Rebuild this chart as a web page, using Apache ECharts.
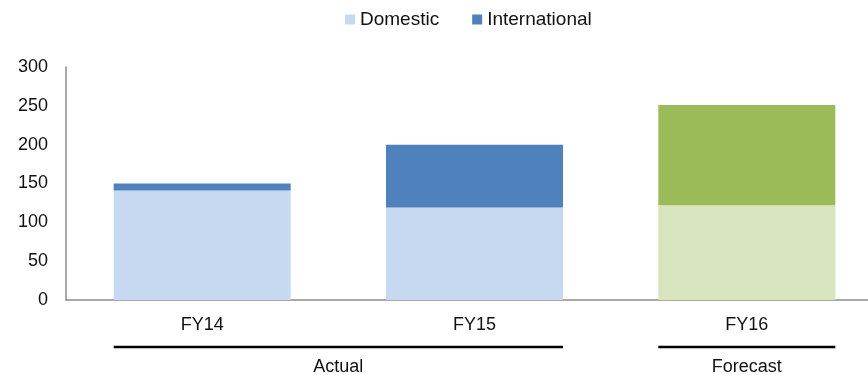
<!DOCTYPE html>
<html>
<head>
<meta charset="utf-8">
<script src="https://cdn.jsdelivr.net/npm/echarts@6/dist/echarts.min.js"></script>
<style>
  html, body { margin: 0; padding: 0; background: #fff; overflow: hidden; }
  #chart { width: 884px; height: 375px; }
</style>
</head>
<body>
<div id="chart"></div>
<script>
// Fiscal years and their stacked values
const categories = ['FY14', 'FY15', 'FY16'];
const domestic = [141, 119, 122];
const international = [9, 81, 129];
// Period groups shown beneath the category axis
const groupNames = ['Actual', 'Forecast'];
const groupSpans = [[0, 1], [2, 2]];
const forecastFrom = 2;

const FONT = '"Liberation Sans", Arial, Helvetica, sans-serif';
const blueLight = '#c6d9f1', blueDark = '#4f81bd';
const greenLight = '#d7e4bd', greenDark = '#9bbb59';

function styled(values, forecast) {
  return values.map((v, i) => i >= forecastFrom
    ? { value: v, itemStyle: { color: forecast } }
    : { value: v });
}

const chart = echarts.init(document.getElementById('chart'), null, { renderer: 'canvas' });
const barGap = 0.35;

chart.setOption({
  animation: false,
  textStyle: { fontFamily: FONT },
  legend: {
    top: 5,
    left: 340,
    itemWidth: 10,
    itemHeight: 10,
    itemGap: 33,
    icon: 'rect',
    textStyle: { fontSize: 19, color: '#111', fontFamily: FONT },
    data: ['Domestic', 'International']
  },
  grid: { left: 66, top: 67, right: 1, height: 233, containLabel: false },
  xAxis: {
    type: 'category',
    data: categories,
    axisLine: { lineStyle: { color: '#8c8c8c', width: 1.5 } },
    axisTick: { show: false },
    axisLabel: { fontSize: 18, color: '#111', margin: 16, fontFamily: FONT }
  },
  yAxis: {
    type: 'value',
    min: 0, max: 300, interval: 50,
    axisLine: { show: true, lineStyle: { color: '#8c8c8c', width: 1.5 } },
    axisTick: { show: false },
    splitLine: { show: false },
    axisLabel: { fontSize: 18, color: '#111', margin: 18, fontFamily: FONT }
  },
  series: [
    {
      name: 'Domestic', type: 'bar', stack: 'total',
      barCategoryGap: (barGap * 100) + '%',
      itemStyle: { color: blueLight },
      data: styled(domestic, greenLight)
    },
    {
      name: 'International', type: 'bar', stack: 'total',
      barCategoryGap: (barGap * 100) + '%',
      itemStyle: { color: blueDark },
      data: styled(international, greenDark)
    }
  ]
});

// Group brackets under the axis, placed from the category scale
function drawGroups() {
  const c0 = chart.convertToPixel({ xAxisIndex: 0 }, categories[0]);
  const c1 = chart.convertToPixel({ xAxisIndex: 0 }, categories[1]);
  const band = c1 - c0;
  const half = band * (1 - barGap) / 2;
  const lineY = 347;
  const textY = 367;
  const elements = [];
  groupNames.forEach((name, i) => {
    const a = chart.convertToPixel({ xAxisIndex: 0 }, categories[groupSpans[i][0]]) - half;
    const b = chart.convertToPixel({ xAxisIndex: 0 }, categories[groupSpans[i][1]]) + half;
    elements.push({
      type: 'line',
      shape: { x1: a, y1: lineY, x2: b, y2: lineY },
      style: { stroke: '#000', lineWidth: 2.5 }
    });
    elements.push({
      type: 'text',
      x: (a + b) / 2, y: textY,
      style: {
        text: name, fill: '#111', font: '18px ' + FONT,
        align: 'center', verticalAlign: 'middle'
      }
    });
  });
  chart.setOption({ graphic: elements });
}
drawGroups();
</script>
</body>
</html>
